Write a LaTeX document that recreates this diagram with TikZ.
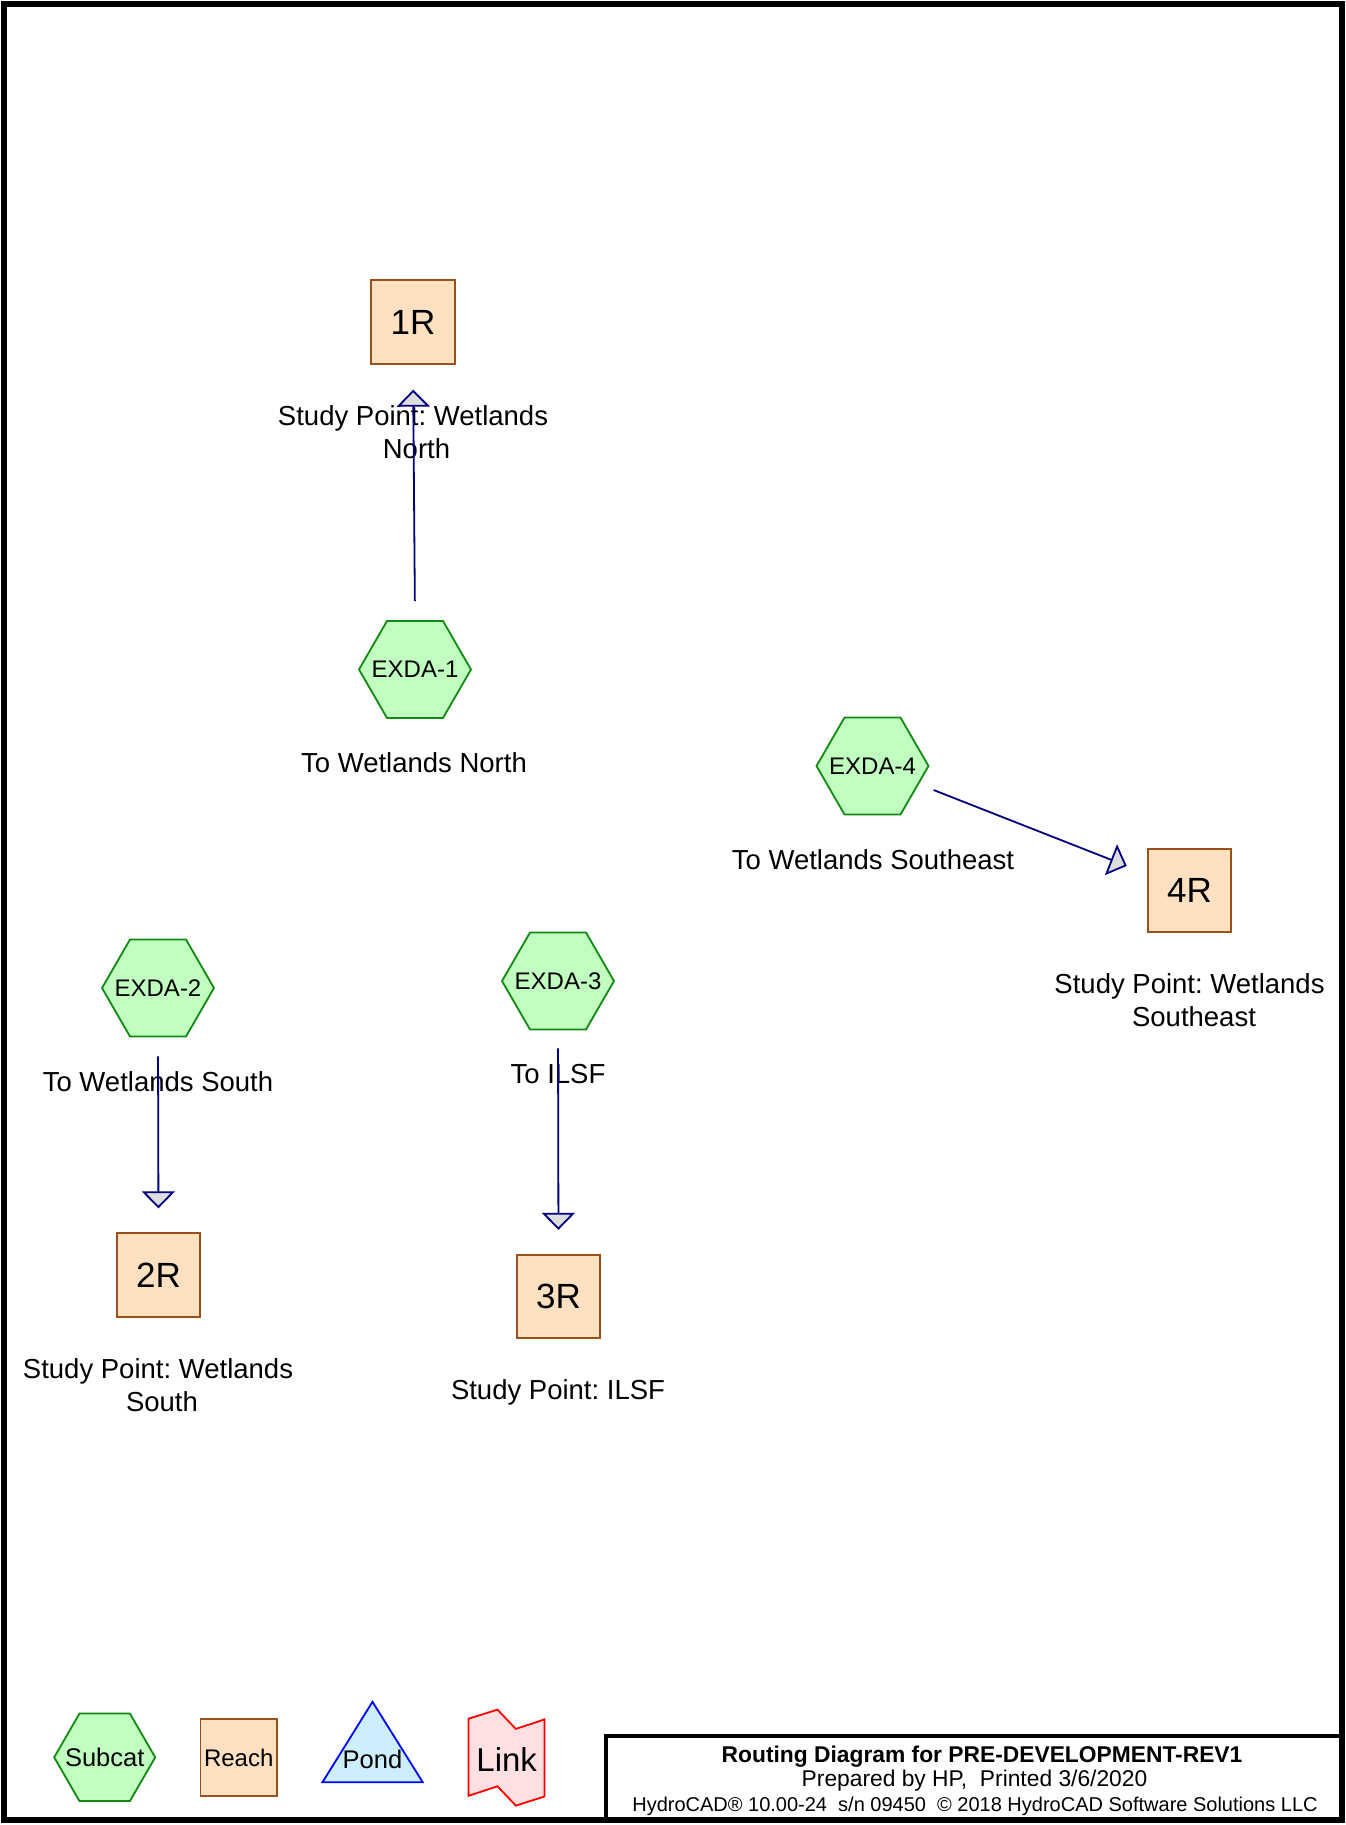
\documentclass[tikz,border=0pt]{standalone}
\usepackage{fontspec}
\setmainfont{Liberation Sans}
\usetikzlibrary{shapes.geometric,arrows.meta}
\definecolor{subfill}{HTML}{C0FFC0}
\definecolor{subline}{HTML}{108A10}
\definecolor{reachfill}{HTML}{FFE0C0}
\definecolor{reachline}{HTML}{99501A}
\definecolor{pondfill}{HTML}{CCEEFF}
\definecolor{pondline}{HTML}{0000FF}
\definecolor{linkfill}{HTML}{FFE0E2}
\definecolor{linkline}{HTML}{FF0000}
\definecolor{flowline}{HTML}{000080}
\definecolor{headfill}{HTML}{DDDDDD}
\newcommand{\zw}[1]{\makebox[0pt]{#1}}
\tikzset{
  subcat/.style={regular polygon, regular polygon sides=6, minimum size=112pt, inner sep=0pt,
    fill=subfill, draw=subline, line width=1.8pt, font=\fontsize{24}{28}\selectfont},
  reach/.style={rectangle, minimum size=83.5pt, inner sep=0pt, fill=reachfill, draw=reachline,
    line width=1.8pt, font=\fontsize{35}{42}\selectfont},
  lbl/.style={anchor=base, inner sep=0pt, font=\fontsize{27.5}{33}\selectfont},
  flow/.style={draw=flowline, line width=1.8pt,
    -{Triangle[length=17pt,width=33pt,fill=headfill]}},
  titletxt/.style={anchor=base, inner sep=0pt},
}
\begin{document}
\frenchspacing
\begin{tikzpicture}[x=1pt,y=-1pt]
\useasboundingbox (0,0) rectangle (1345,1825);
% outer frame
\draw[line width=6pt] (4.3,4.3) rectangle (1341.7,1819.5);
% title block
\draw[line width=4.5pt] (606,1822) -- (606,1736) -- (1342,1736);
\node[titletxt, font=\bfseries\fontsize{22.8}{27}\selectfont] (t1) at (982,1762) {Routing Diagram for PRE-DEVELOPMENT-REV1};
\node[titletxt, font=\fontsize{22.8}{27}\selectfont] (t2) at (974.5,1786.7) {Prepared by HP,\ \ Printed 3/6/2020};
\node[titletxt, font=\fontsize{20}{24}\selectfont] (t3) at (975,1811) {HydroCAD® 10.00-24\ \ s/n 09450\ \ © 2018 HydroCAD Software Solutions LLC};

% nodes
\node[reach] (r1) at (413,322) {1R};
\node[lbl] (r1a) at (413,425) {Study Point: Wetlands};
\node[lbl] (r1b) at (416.5,458) {North};
\node[subcat] (e1) at (415,669.5) {\zw{EXDA-1}};
\node[lbl] (e1a) at (414,772) {To Wetlands North};

\node[subcat] (e4) at (872.5,766) {\zw{EXDA-4}};
\node[lbl] (e4a) at (873,869) {To Wetlands Southeast};
\node[reach] (r4) at (1189.5,890.5) {4R};
\node[lbl] (r4a) at (1189.5,993) {Study Point: Wetlands};
\node[lbl] (r4b) at (1194,1026) {Southeast};

\node[subcat] (e2) at (158,988) {\zw{EXDA-2}};
\node[lbl] (e2a) at (158,1091) {To Wetlands South};
\node[reach] (r2) at (158.5,1275) {2R};
\node[lbl] (r2a) at (158,1378) {Study Point: Wetlands};
\node[lbl] (r2b) at (162,1411) {South};

\node[subcat] (e3) at (558,981) {\zw{EXDA-3}};
\node[lbl] (e3a) at (558,1083) {To ILSF};
\node[reach] (r3) at (558.5,1296.5) {3R};
\node[lbl] (r3a) at (558,1399) {Study Point: ILSF};

% connectors
\draw[flow, shorten <=19pt, shorten >=25pt] (e1.north) -- (r1.south);
\draw[flow, shorten <=15.7pt, shorten >=21.6pt] (e4) -- (r4);
\draw[flow, shorten <=19pt, shorten >=24pt] (e2.south) -- (r2.north);
\draw[flow, shorten <=18pt, shorten >=24pt] (e3.south) -- (r3.north);

% legend
\node[subcat, minimum size=101pt, font=\fontsize{25.5}{30}\selectfont] (lsub) at (104.7,1757.3) {\zw{Subcat}};
\node[reach, minimum size=76.5pt, font=\fontsize{24}{29}\selectfont] (lreach) at (238.7,1757.5) {Reach};
\draw[draw=pondline, fill=pondfill, line width=1.8pt, line join=miter] (322.4,1782.3) -- (372.5,1701.8) -- (422.8,1782.3) -- cycle;
\node[inner sep=0pt, font=\fontsize{25.5}{30}\selectfont] (lpond) at (372.5,1759) {Pond};
\draw[draw=linkline, fill=linkfill, line width=1.8pt] (468.5,1718.7) -- (497.5,1709.6) -- (515.8,1728.9) -- (544.5,1719.4) -- (544.5,1796.5) -- (515.8,1805.6) -- (497.5,1786.3) -- (468.5,1795.8) -- cycle;
\node[inner sep=0pt, font=\fontsize{33}{40}\selectfont] (llink) at (506.7,1759.3) {Link};
\end{tikzpicture}
\end{document}
